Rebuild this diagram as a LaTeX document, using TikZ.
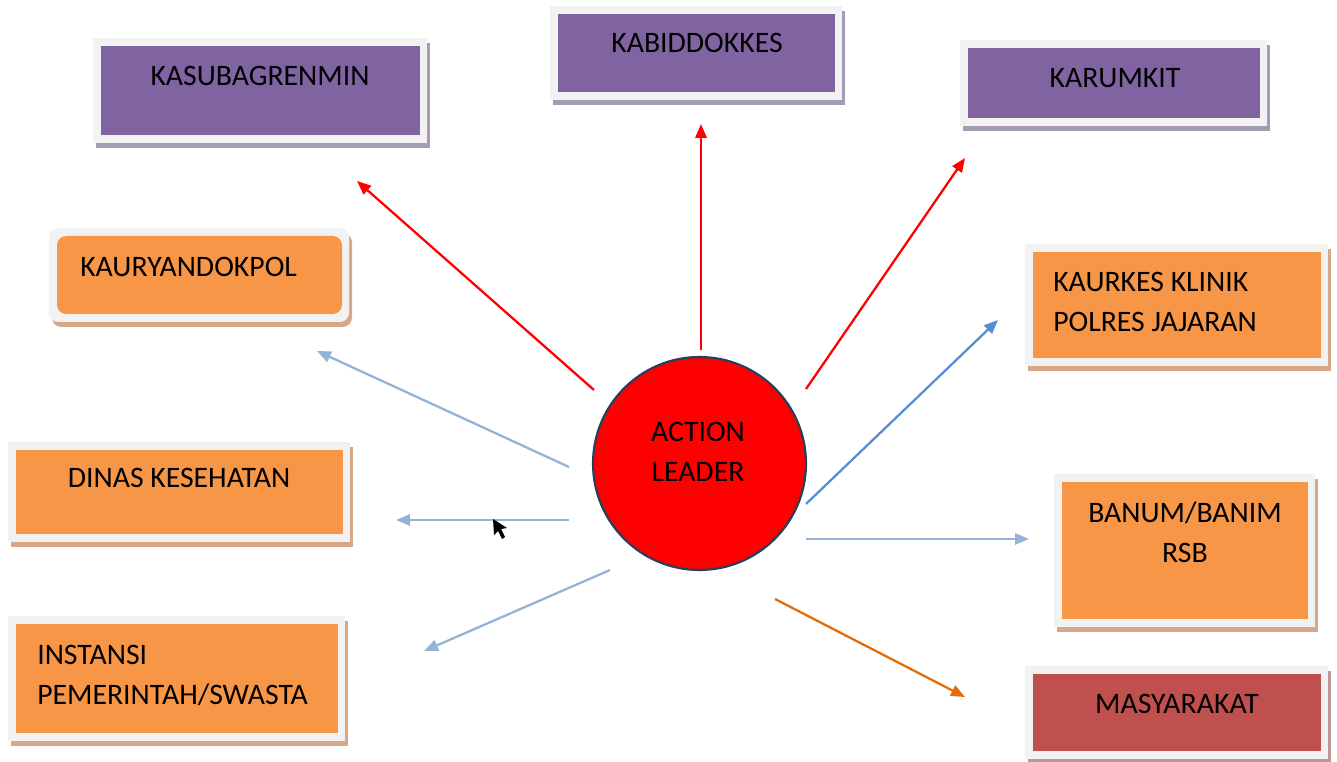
\documentclass[tikz,border=0pt]{standalone}
\usepackage{fontspec}
\setmainfont{Carlito}
\usetikzlibrary{arrows.meta}

\definecolor{framegray}{HTML}{F2F2F2}
\definecolor{purplefill}{HTML}{8064A2}
\definecolor{purpleshade}{HTML}{A59CB4}
\definecolor{orangefill}{HTML}{F79646}
\definecolor{orangeshade}{HTML}{D6A887}
\definecolor{redfill}{HTML}{C0504D}
\definecolor{redshade}{HTML}{BE9896}
\definecolor{lightblue}{HTML}{95B3D7}
\definecolor{midblue}{HTML}{558ED5}
\definecolor{darkorange}{HTML}{E36C09}
\definecolor{ringblue}{HTML}{243F60}

% panel: shadow, light frame, coloured inner rectangle (named node)
% #1 extra options, #2 name, #3/#4 inner top-left, #5/#6 inner bottom-right, #7 fill, #8 shadow
\newcommand\panel[8][]{%
  \fill[#8,#1] ({#3-5},{#4-3}) rectangle ({#5+10},{#6+13});
  \fill[framegray,#1] ({#3-8},{#4-8}) rectangle ({#5+7},{#6+8});
  \node[#1, fill=#7, draw=none, inner sep=0pt, rectangle,
        minimum width={(#5-#3)*0.75pt}, minimum height={(#6-#4)*0.75pt}]
        (#2) at ({(#3+#5)/2},{(#4+#6)/2}) {};
}

\tikzset{
  lbl/.style={font=\fontsize{22.3}{30}\selectfont, text=black, inner sep=0pt},
  link/.style={line width=1.7pt, -{Triangle[length=10.5pt,width=8.5pt]}},
}

\begin{document}
\begin{tikzpicture}[x=0.75pt, y=-0.75pt]
\useasboundingbox[fill=white] (0,0) rectangle (1337,762);

% top row (purple)
\panel{kasub}{101}{46}{420}{135}{purplefill}{purpleshade}
\panel{kabid}{558}{14}{835}{92}{purplefill}{purpleshade}
\panel{karum}{968}{48}{1260}{118}{purplefill}{purpleshade}

% left column (orange)
\panel[rounded corners=7pt]{kaury}{57}{236}{342}{314}{orangefill}{orangeshade}
\panel{dinas}{16}{450}{343}{534}{orangefill}{orangeshade}
\panel{instansi}{16}{624}{338}{733}{orangefill}{orangeshade}

% right column
\panel{klinik}{1033}{252}{1321}{358}{orangefill}{orangeshade}
\panel{banum}{1062}{482}{1308}{619}{orangefill}{orangeshade}
\panel{masy}{1033}{674}{1321}{751}{redfill}{redshade}

% labels
\node[lbl] (tkasub) at (260,76) {KASUBAGRENMIN};
\node[lbl] (tkabid) at (697,43) {KABIDDOKKES};
\node[lbl] (tkarum) at (1115,78) {KARUMKIT};
\node[lbl, anchor=west] (tkaury) at (80,267) {KAURYANDOKPOL};
\node[lbl] (tdinas) at (179,478) {DINAS KESEHATAN};
\node[lbl, anchor=west, align=left] (tinst) at (37,675) {INSTANSI\\PEMERINTAH/SWASTA};
\node[lbl, anchor=west, align=left] (tklinik) at (1053,302) {KAURKES KLINIK\\POLRES JAJARAN};
\node[lbl, align=center] (tbanum) at (1185,532) {BANUM/BANIM\\RSB};
\node[lbl] (tmasy) at (1177,704) {MASYARAKAT};

% centre
\node[circle, fill=red, draw=ringblue, line width=1.6pt, minimum size={213*0.75pt}, inner sep=0pt]
  (leader) at (699.5,463.5) {};
\node[lbl, align=center] (tleader) at (698,452) {ACTION\\LEADER};

% arrow end points
\coordinate (s1) at (594,390);  \coordinate (e1) at (357,181);
\coordinate (s2) at (701,350);  \coordinate (e2) at (701,124);
\coordinate (s3) at (806,389);  \coordinate (e3) at (965,158);
\coordinate (s4) at (569,467);  \coordinate (e4) at (317,351);
\coordinate (s5) at (569,520);  \coordinate (e5) at (396,520);
\coordinate (s6) at (610,570);  \coordinate (e6) at (424,651);
\coordinate (s7) at (806,504);  \coordinate (e7) at (998,320);
\coordinate (s8) at (806,539);  \coordinate (e8) at (1029,539);
\coordinate (s9) at (775,599);  \coordinate (e9) at (965,697);

\draw[link, red] (s1) -- (e1);
\draw[link, red] (s2) -- (e2);
\draw[link, red] (s3) -- (e3);
\draw[link, lightblue] (s4) -- (e4);
\draw[link, lightblue] (s5) -- (e5);
\draw[link, lightblue] (s6) -- (e6);
\draw[link, midblue] (s7) -- (e7);
\draw[link, lightblue] (s8) -- (e8);
\draw[link, darkorange] (s9) -- (e9);

% pointer
\fill[black] (493,519) -- (494,535) -- (498,531) -- (502,539) -- (505,537) -- (501,529) -- (507,528) -- cycle;
\end{tikzpicture}
\end{document}
